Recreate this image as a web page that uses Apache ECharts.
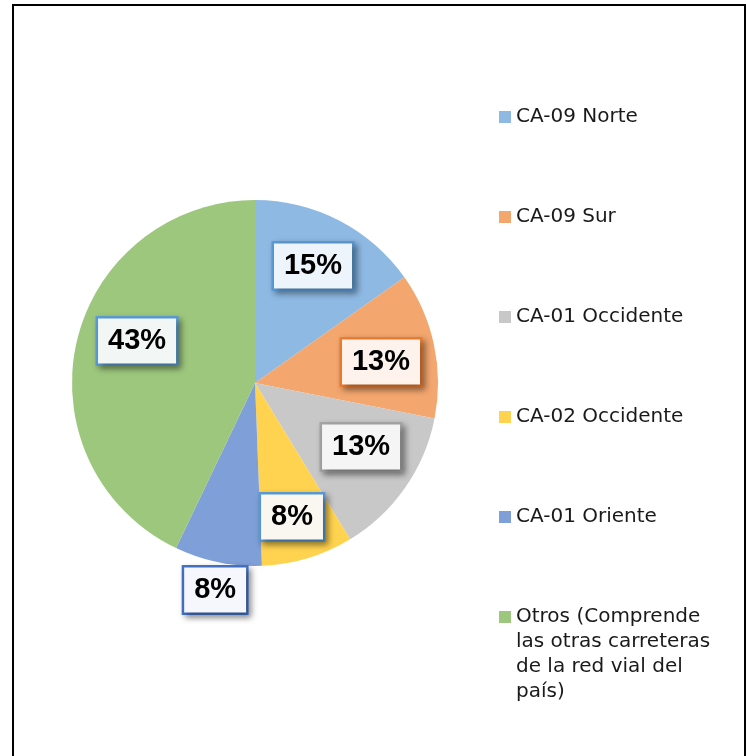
<!DOCTYPE html>
<html><head><meta charset="utf-8">
<script src="https://cdn.jsdelivr.net/npm/echarts@6/dist/echarts.min.js"></script>
<style>html,body{margin:0;padding:0;background:#fff}#c{width:747px;height:756px}</style>
</head><body><div id="c"></div>
<script>
const categories = ['CA-09 Norte','CA-09 Sur','CA-01 Occidente','CA-02 Occidente','CA-01 Oriente','Otros (Comprende las otras carreteras de la red vial del país)'];
const values = [15.2, 12.9, 13.2, 8.1, 7.7, 42.9];
const sliceColors = ['#8DB9E3','#F3A66E','#C8C8C8','#FFD34F','#7F9FD8','#9DC77D'];
const borderColors = ['#5B9BD5','#ED7D31','#A5A5A5','#5B9BD5','#4472C4','#5B9BD5'];
const boxFills = ['#EEF4FB','#FDF3EC','#F5F5F5','#F9F7EF','#F5F7FC','#F2F6F5'];
const labelDist = [0.714, 0.698, 0.677, 0.760, 1.152, 0.684];
const labelAngleShift = [-1.0, 2.6, -3.8, 1.3, -0.8, 6.8];
const lastLegendLines = ['Otros (Comprende','las otras carreteras','de la red vial del','país)'];

const CX = 255, CY = 383, R = 183;
const total = values.reduce((a,b)=>a+b,0);
const mids = []; let acc = 0;
values.forEach(v => { mids.push((acc + v/2)/total*2*Math.PI); acc += v; });

const chart = echarts.init(document.getElementById('c'), null, {renderer:'canvas'});
const FONT = 'DejaVu Sans';
const legendText = {fontFamily:FONT, fontSize:20, color:'#1a1a1a', lineHeight:25};
chart.setOption({
  animation:false,
  color: sliceColors,
  graphic:[{type:'rect', shape:{x:13,y:5,width:732,height:800}, style:{fill:'none', stroke:'#000', lineWidth:2}, silent:true}],
  legend:[{
    orient:'vertical', left:499, top:104.5, padding:0, itemGap:75,
    itemWidth:12, itemHeight:12, icon:'rect',
    data: categories.slice(0,5),
    textStyle: legendText
  },{
    orient:'vertical', left:499, top:529.5, padding:0,
    itemWidth:12, itemHeight:12, icon:'rect',
    data:[categories[5]],
    formatter: () => '\n\n\n' + lastLegendLines.join('\n'),
    textStyle: legendText
  }],
  series:[{
    type:'pie', center:[CX,CY], radius:R, startAngle:90, clockwise:true,
    percentPrecision:0,
    itemStyle:{borderWidth:0},
    data: categories.map((n,i)=>({name:n, value:values[i],
      label:{borderColor:borderColors[i], backgroundColor:boxFills[i]}})),
    label:{
      show:true, position:'inside', formatter:'{d}%',
      fontFamily:'Liberation Sans', fontWeight:'bold', fontSize:29, color:'#000',
      borderWidth:2.5, padding:[9,10,7,10],
      shadowColor:'rgba(0,0,0,0.35)', shadowBlur:6, shadowOffsetX:3, shadowOffsetY:3
    },
    labelLine:{show:false},
    labelLayout:(p)=>{
      const i = p.dataIndex, a = mids[i] + labelAngleShift[i]*Math.PI/180, d = labelDist[i]*R;
      return {x: CX + d*Math.sin(a), y: CY - d*Math.cos(a), align:'center', verticalAlign:'middle'};
    },
    emphasis:{disabled:true}
  }]
});
</script></body></html>
